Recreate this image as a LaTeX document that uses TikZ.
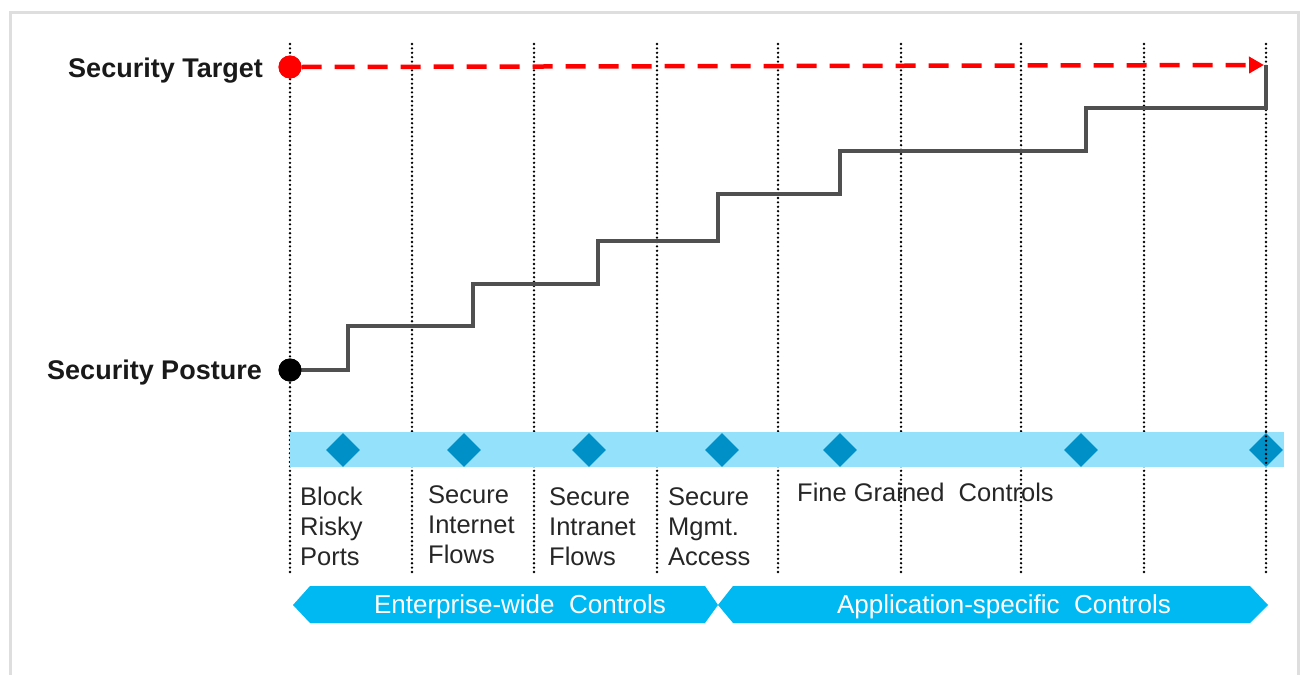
\documentclass[tikz,border=0pt]{standalone}
\usepackage{fontspec}
\setmainfont{Liberation Sans}
\usetikzlibrary{arrows.meta,shapes.geometric}
\definecolor{bandblue}{HTML}{93E1FB}
\definecolor{diablue}{HTML}{0090C8}
\definecolor{banblue}{HTML}{00B9F2}
\definecolor{framegray}{HTML}{DEDEDE}
\definecolor{stairgray}{HTML}{505050}
\definecolor{tred}{HTML}{FF0000}
\tikzset{
  vdots/.style={line width=2.6pt, line cap=round, dash pattern=on 0pt off 4.4pt, black},
  dmark/.style={diamond, fill=diablue, minimum width=34pt, minimum height=34pt, inner sep=0pt},
  enddot/.style={circle, minimum size=23pt, inner sep=0pt},
  sidelabel/.style={anchor=east, inner sep=0pt, font=\fontsize{27}{30}\selectfont\bfseries, text=black!90},
  steplabel/.style={anchor=north west, inner sep=0pt, align=left, font=\fontsize{25.5}{30}\selectfont, text=black!85},
  bantext/.style={inner sep=0pt, font=\fontsize{26}{30}\selectfont, text=white},
  stairline/.style={line width=4pt, stairgray},
  targetline/.style={line width=4.5pt, tred, dash pattern=on 20pt off 13pt, -{Triangle[length=15pt,width=16pt]}}
}
\begin{document}
\begin{tikzpicture}[x=1pt,y=-1pt]
\useasboundingbox (0,0) rectangle (1302,675);
% frame
\draw[framegray, line width=3pt] (10,700) -- (10,12) -- (1298,12) -- (1298,700);
% vertical dotted lines
\foreach \x in {290,412,534,657,778,901,1021,1144,1266}
  \draw[vdots] (\x,44) -- (\x,572);
% band
\fill[bandblue] (290,432) rectangle (1284,467);
% diamonds
\node[dmark] (d1) at (343,450) {};
\node[dmark] (d2) at (464,450) {};
\node[dmark] (d3) at (589,450) {};
\node[dmark] (d4) at (722,450) {};
\node[dmark] (d5) at (840,450) {};
\node[dmark] (d6) at (1081,450) {};
\node[dmark] (d7) at (1266,450) {};
% re-draw the last dotted line over its diamond
\draw[vdots] (1266,432) -- (1266,467);
% end points
\coordinate (tend) at (1266,65);
\coordinate (aend) at (1264,65);
\node[enddot, fill=tred] (target) at (290,67) {};
\node[enddot, fill=black] (posture) at (290,370) {};
% staircase
\draw[stairline] (posture.center) -| (348,326) -| (473,284) -| (598,241) -| (718,194) -| (840,151) -| (1086,108) -| (tend);
% target dashed arrow
\draw[targetline] (target.east) -- (aend);
\node[enddot, fill=tred] at (target) {};
\node[enddot, fill=black] at (posture) {};
% side labels
\node[sidelabel] (lt) at (263,71) {Security Target};
\node[sidelabel] (lp) at (262,373) {Security Posture};
% step labels
\node[steplabel] (s1) at (300,487) {Block\\Risky\\Ports};
\node[steplabel] (s2) at (428,485) {Secure\\Internet\\Flows};
\node[steplabel] (s3) at (549,487) {Secure\\Intranet\\Flows};
\node[steplabel] (s4) at (668,487) {Secure\\Mgmt.\\Access};
\node[steplabel] (s5) at (797,483) {Fine Grained\ \ Controls};
% banners
\fill[banblue] (293,605) -- (310,586) -- (705,586) -- (718,605) -- (705,623) -- (310,623) -- cycle;
\fill[banblue] (718,605) -- (733,586) -- (1250,586) -- (1268,605) -- (1250,623) -- (733,623) -- cycle;
\node[bantext] (b1) at (520,607) {Enterprise-wide\ \ Controls};
\node[bantext] (b2) at (1004,607) {Application-specific\ \ Controls};
\end{tikzpicture}
\end{document}
